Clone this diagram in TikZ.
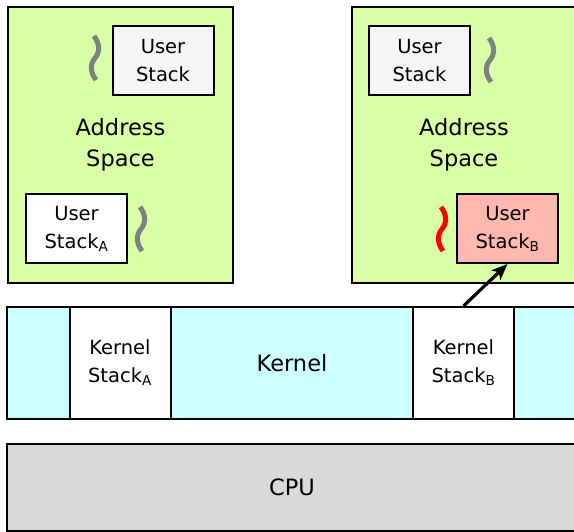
\documentclass[tikz,border=0pt]{standalone}
\usepackage{fontspec}
\setmainfont{DejaVu Sans}
\usetikzlibrary{arrows.meta}

\definecolor{spacegreen}{RGB}{217,255,166}
\definecolor{kernelcyan}{RGB}{204,255,255}
\definecolor{cpugray}{RGB}{217,217,217}
\definecolor{stackpink}{RGB}{255,184,176}
\definecolor{stackgray}{RGB}{245,245,245}

\begin{document}
\begin{tikzpicture}[
        x=1pt, y=-1pt,
        every node/.style={font=\fontsize{19.5}{28}\selectfont, align=center, inner sep=0pt},
        big/.style={font=\fontsize{22.5}{31}\selectfont},
        region/.style={rectangle, draw=black, line width=2pt},
        space/.style={region, fill=spacegreen, minimum width=225pt, minimum height=276pt, big},
        ustack/.style={region, fill=white, minimum width=101pt, minimum height=69pt},
        kstack/.style={region, fill=white, minimum width=101pt, minimum height=112pt},
        wave/.pic={\draw[line width=5pt] (-1,-22) .. controls (5,-14) and (5,-6) .. (0,0) .. controls (-5,6) and (-5,14) .. (1,22);},
        arrow/.style={line width=3.2pt,-{Stealth[length=16pt,width=13pt,inset=4pt]}}
    ]

    \useasboundingbox (0,0) rectangle (574,532);
    \clip (0,0) rectangle (574,532);

    % Address spaces
    \node[space] (spaceA) at (120.5,145) {Address\\Space};
    \node[space] (spaceB) at (464,145) {Address\\Space};

    % User stacks
    \node[ustack, fill=stackgray] (userA0) at (163,60.5) {User\\Stack};
    \node[ustack] (userA) at (76.5,229) {User\\Stack\textsubscript{A}};
    \node[ustack, fill=stackgray] (userB0) at (419.5,60.5) {User\\Stack};
    \node[ustack, fill=stackpink] (userB) at (507.5,228.5) {User\\Stack\textsubscript{B}};

    % Threads
    \pic[color=gray] at (95,58) {wave};
    \pic[color=gray] at (141,229) {wave};
    \pic[color=gray] at (490,60) {wave};
    \pic[color=red] at (442,229) {wave};

    % Kernel and CPU
    \node[region, fill=kernelcyan, minimum width=570pt, minimum height=112pt, big] (kernel) at (292,363) {Kernel};
    \node[kstack] (kstackA) at (120,363) {Kernel\\Stack\textsubscript{A}};
    \node[kstack] (kstackB) at (463.5,363) {Kernel\\Stack\textsubscript{B}};
    \node[region, fill=cpugray, minimum width=570pt, minimum height=87pt, big] (cpu) at (292,487.5) {CPU};

    % Arrows
    \draw [arrow] (kstackB.north) -- (userB.south);

\end{tikzpicture}
\end{document}
